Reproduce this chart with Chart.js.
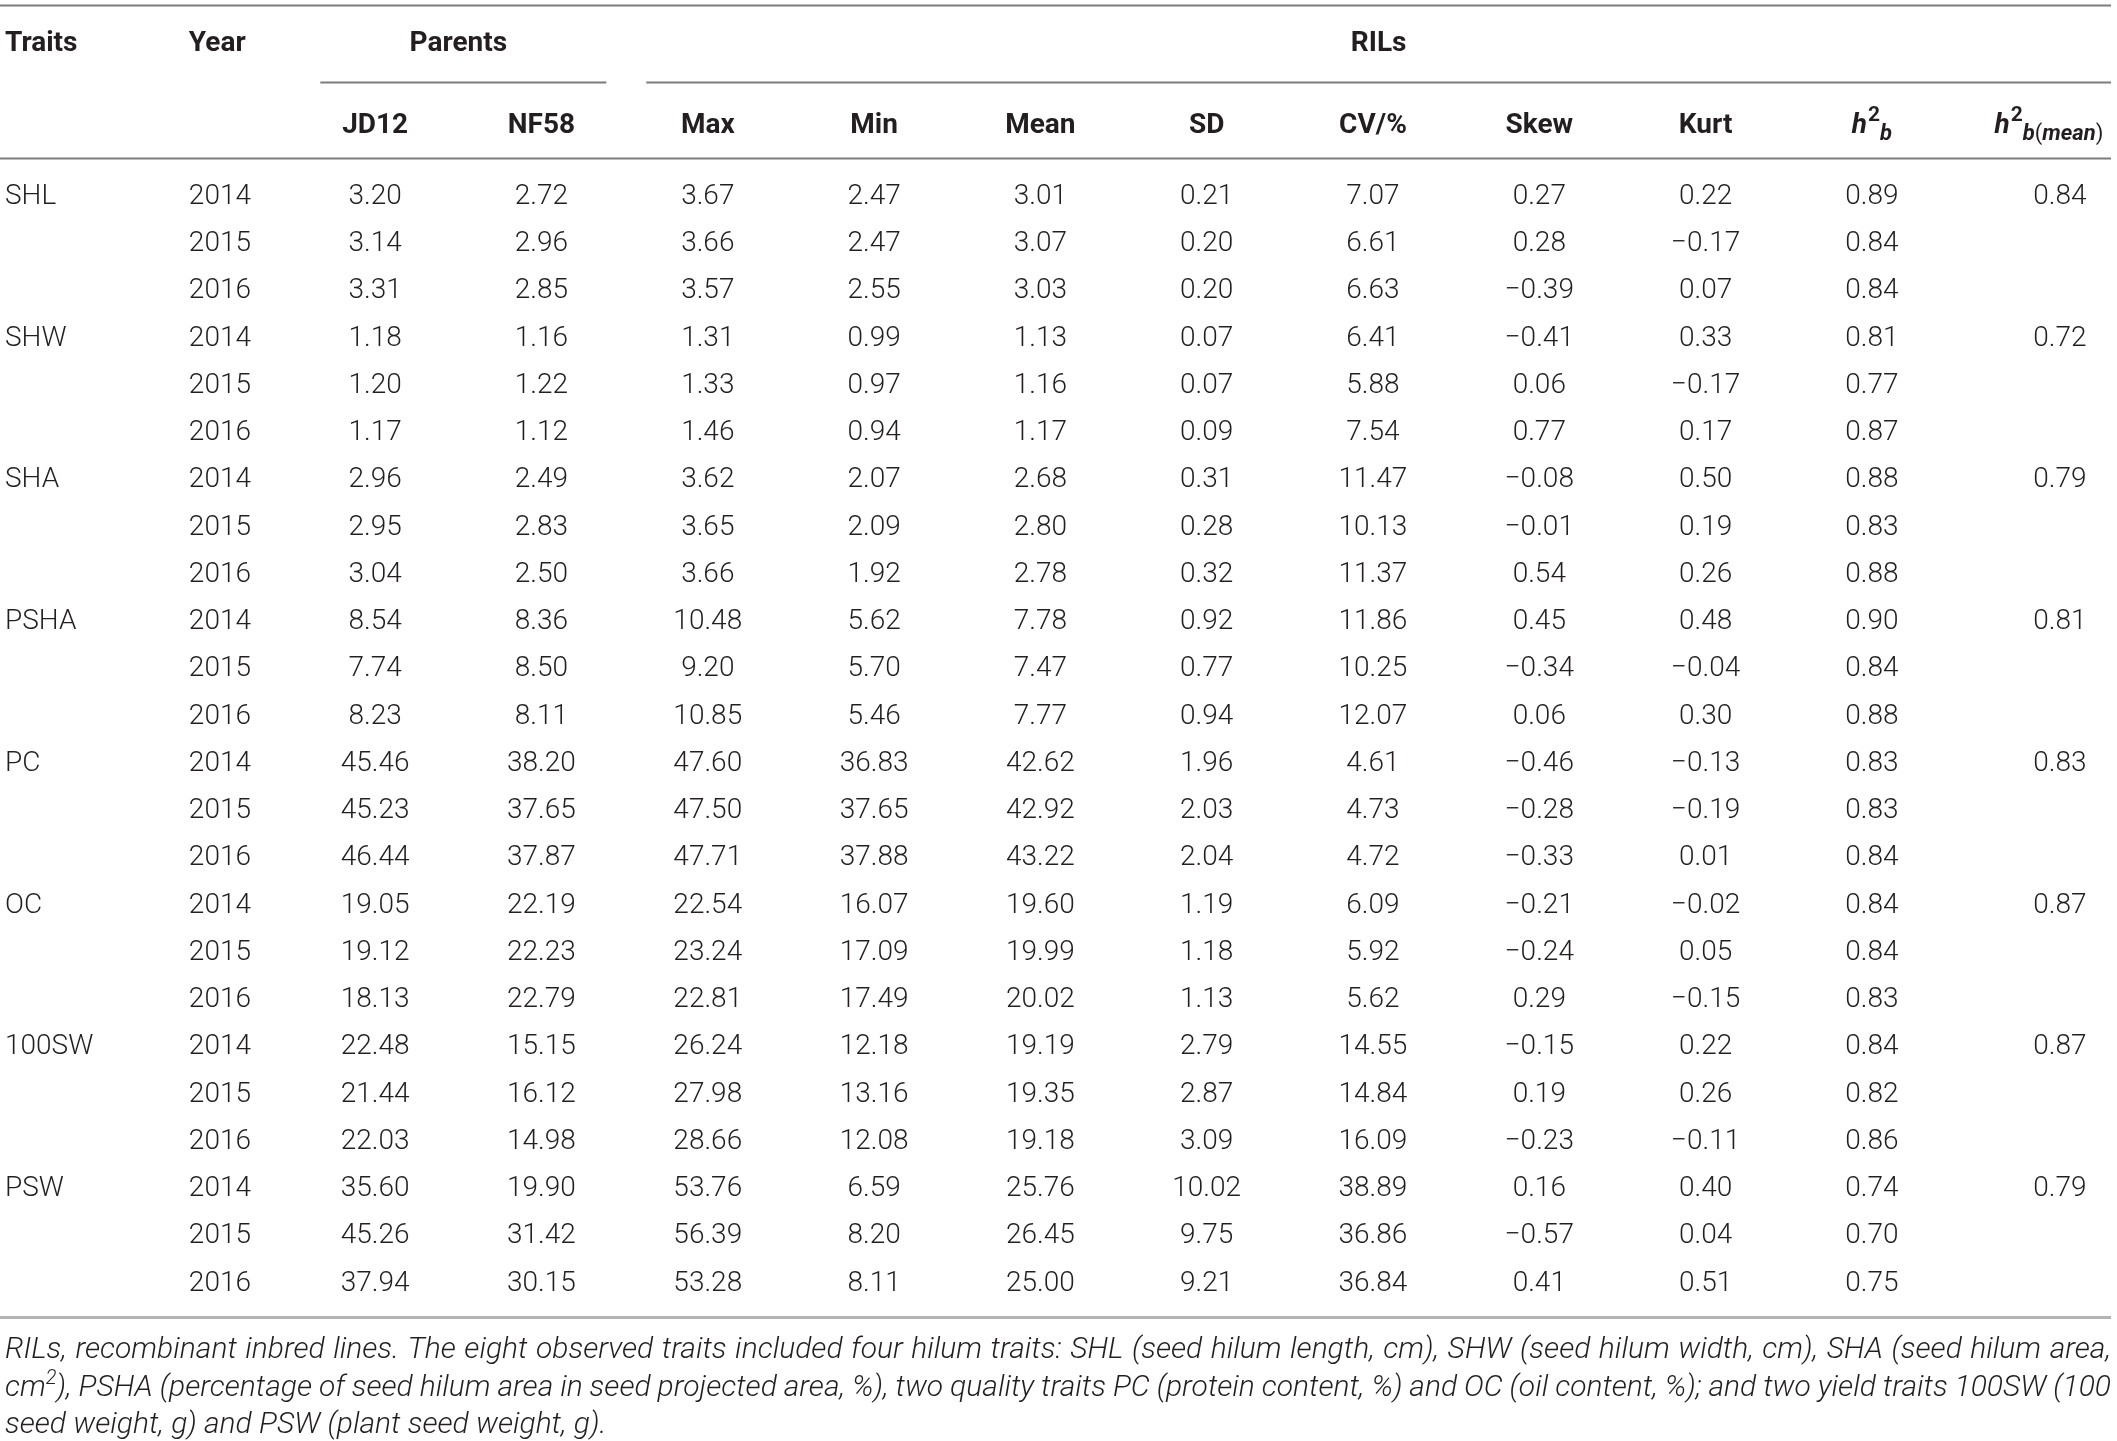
<!DOCTYPE html>
<html>
<head>
<meta charset="utf-8">
<title>Traits of parents and RILs</title>
<script src="https://cdn.jsdelivr.net/npm/chart.js@4.4.1/dist/chart.umd.min.js"></script>
<style>
    html, body { margin: 0; padding: 0; background: #ffffff; }
    #wrap { width: 2117px; height: 1441px; }
</style>
</head>
<body>
<div id="wrap"><canvas id="traitTable" width="2117" height="1441"></canvas></div>
<script>
// Table data, one array per column (rows: trait x year)
const traits = ['SHL', 'SHW', 'SHA', 'PSHA', 'PC', 'OC', '100SW', 'PSW'];
const years = ['2014', '2015', '2016'];
const jd12 = [3.20, 3.14, 3.31, 1.18, 1.20, 1.17, 2.96, 2.95, 3.04, 8.54, 7.74, 8.23, 45.46, 45.23, 46.44, 19.05, 19.12, 18.13, 22.48, 21.44, 22.03, 35.60, 45.26, 37.94];
const nf58 = [2.72, 2.96, 2.85, 1.16, 1.22, 1.12, 2.49, 2.83, 2.50, 8.36, 8.50, 8.11, 38.20, 37.65, 37.87, 22.19, 22.23, 22.79, 15.15, 16.12, 14.98, 19.90, 31.42, 30.15];
const rilMax = [3.67, 3.66, 3.57, 1.31, 1.33, 1.46, 3.62, 3.65, 3.66, 10.48, 9.20, 10.85, 47.60, 47.50, 47.71, 22.54, 23.24, 22.81, 26.24, 27.98, 28.66, 53.76, 56.39, 53.28];
const rilMin = [2.47, 2.47, 2.55, 0.99, 0.97, 0.94, 2.07, 2.09, 1.92, 5.62, 5.70, 5.46, 36.83, 37.65, 37.88, 16.07, 17.09, 17.49, 12.18, 13.16, 12.08, 6.59, 8.20, 8.11];
const rilMean = [3.01, 3.07, 3.03, 1.13, 1.16, 1.17, 2.68, 2.80, 2.78, 7.78, 7.47, 7.77, 42.62, 42.92, 43.22, 19.60, 19.99, 20.02, 19.19, 19.35, 19.18, 25.76, 26.45, 25.00];
const rilSD = [0.21, 0.20, 0.20, 0.07, 0.07, 0.09, 0.31, 0.28, 0.32, 0.92, 0.77, 0.94, 1.96, 2.03, 2.04, 1.19, 1.18, 1.13, 2.79, 2.87, 3.09, 10.02, 9.75, 9.21];
const rilCV = [7.07, 6.61, 6.63, 6.41, 5.88, 7.54, 11.47, 10.13, 11.37, 11.86, 10.25, 12.07, 4.61, 4.73, 4.72, 6.09, 5.92, 5.62, 14.55, 14.84, 16.09, 38.89, 36.86, 36.84];
const rilSkew = [0.27, 0.28, -0.39, -0.41, 0.06, 0.77, -0.08, -0.01, 0.54, 0.45, -0.34, 0.06, -0.46, -0.28, -0.33, -0.21, -0.24, 0.29, -0.15, 0.19, -0.23, 0.16, -0.57, 0.41];
const rilKurt = [0.22, -0.17, 0.07, 0.33, -0.17, 0.17, 0.50, 0.19, 0.26, 0.48, -0.04, 0.30, -0.13, -0.19, 0.01, -0.02, 0.05, -0.15, 0.22, 0.26, -0.11, 0.40, 0.04, 0.51];
const h2b = [0.89, 0.84, 0.84, 0.81, 0.77, 0.87, 0.88, 0.83, 0.88, 0.90, 0.84, 0.88, 0.83, 0.83, 0.84, 0.84, 0.84, 0.83, 0.84, 0.82, 0.86, 0.74, 0.70, 0.75];
const h2bMean = [0.84, 0.72, 0.79, 0.81, 0.83, 0.87, 0.87, 0.79];

// Header labels
const groupLabels = ['Parents', 'RILs'];
const columnLabels = ['JD12', 'NF58', 'Max', 'Min', 'Mean', 'SD', 'CV/%', 'Skew', 'Kurt'];

// Footnote, as the lines are broken in the print (^ marks a superscript character)
const footnoteLines = [
    'RILs, recombinant inbred lines. The eight observed traits included four hilum traits: SHL (seed hilum length, cm), SHW (seed hilum width, cm), SHA (seed hilum area,',
    'cm^2), PSHA (percentage of seed hilum area in seed projected area, %), two quality traits PC (protein content, %) and OC (oil content, %); and two yield traits 100SW (100',
    'seed weight, g) and PSW (plant seed weight, g).'
];

// Layout (in row units of the y scale)
const ROW = { top: -4.0, head1: -3.23, group: -2.37, head2: -1.5, headRule: -0.76, bottom: 23.77, foot: [24.41, 25.21, 25.99] };
const LAST_COL_SHIFT = 0.13; // the h2b(mean) column sits a bit further right
const FONT = 'Roboto, "Liberation Sans", sans-serif';
const INK = '#231f20';

function fmt(v) {
    const s = Math.abs(v).toFixed(2);
    return v < 0 ? '\u2212' + s : s;
}

// One dataset per table column; each point is a cell
function makeDatasets() {
    const sets = [];
    sets.push({ label: 'Traits', align: 'trait',
        data: traits.map((t, i) => ({ x: 0, y: i * 3 })), cells: traits });
    const yearCells = traits.flatMap(() => years);
    sets.push({ label: 'Year', align: 'year',
        data: yearCells.map((y, k) => ({ x: 1, y: k })), cells: yearCells });
    [jd12, nf58, rilMax, rilMin, rilMean, rilSD, rilCV, rilSkew, rilKurt, h2b].forEach((col, c) => {
        sets.push({ label: 'col' + c, align: 'center',
            data: col.map((v, k) => ({ x: c + 2, y: k })), cells: col.map(fmt) });
    });
    sets.push({ label: 'h2bMean', align: 'center',
        data: h2bMean.map((v, i) => ({ x: 12 + LAST_COL_SHIFT, y: i * 3 })), cells: h2bMean.map(fmt) });
    sets.forEach(s => { s.pointRadius = 0; s.showLine = false; });
    return sets;
}

// Draw runs of text with different fonts / offsets, centred on cx
function drawRuns(ctx, runs, cx, baseY) {
    let total = 0;
    runs.forEach(r => { ctx.font = r.font; total += ctx.measureText(r.t).width + (r.gap || 0); });
    let x = cx - total / 2;
    ctx.textAlign = 'left';
    runs.forEach(r => {
        ctx.font = r.font;
        ctx.fillText(r.t, x, baseY + (r.dy || 0));
        x += ctx.measureText(r.t).width + (r.gap || 0);
    });
}

// Split a word into plain / superscript pieces
function wordRuns(word, font, supFont) {
    const runs = [];
    let buf = '';
    for (let i = 0; i < word.length; i++) {
        if (word[i] === '^') {
            if (buf) runs.push({ t: buf, font: font });
            buf = '';
            runs.push({ t: word[i + 1], font: supFont, dy: -12 });
            i++;
        } else buf += word[i];
    }
    if (buf) runs.push({ t: buf, font: font });
    return runs;
}

function runsWidth(ctx, runs) {
    return runs.reduce((w, r) => { ctx.font = r.font; return w + ctx.measureText(r.t).width; }, 0);
}

const tablePlugin = {
    id: 'tableText',
    beforeDatasetsDraw(chart) {
        const ctx = chart.ctx, xs = chart.scales.x, ys = chart.scales.y, area = chart.chartArea;
        ctx.save();
        function rule(x0, x1, row, color, w) {
            const y = Math.round(ys.getPixelForValue(row)) + 0.5;
            ctx.strokeStyle = color;
            ctx.lineWidth = w;
            ctx.beginPath();
            ctx.moveTo(x0, y);
            ctx.lineTo(x1, y);
            ctx.stroke();
        }
        rule(area.left, area.right - 6, ROW.top, '#7d7d7d', 2);
        rule(xs.getPixelForValue(1.67), xs.getPixelForValue(3.39), ROW.group, '#7d7d7d', 2);
        rule(xs.getPixelForValue(3.63), area.right - 6, ROW.group, '#7d7d7d', 2);
        rule(area.left, area.right - 6, ROW.headRule, '#7d7d7d', 2);
        rule(area.left, area.right - 6, ROW.bottom, '#b4b4b4', 3);
        ctx.restore();
    },
    afterDatasetsDraw(chart) {
        const ctx = chart.ctx, xs = chart.scales.x, ys = chart.scales.y, area = chart.chartArea;
        const size = 28;
        const cap = size * 0.355;
        const body = '300 ' + size + 'px ' + FONT;
        const bold = 'bold ' + size + 'px ' + FONT;
        ctx.save();
        ctx.fillStyle = INK;
        ctx.textBaseline = 'alphabetic';

        // body cells
        chart.data.datasets.forEach((ds, d) => {
            const meta = chart.getDatasetMeta(d);
            ctx.font = body;
            meta.data.forEach((el, j) => {
                const base = el.y + cap;
                if (ds.align === 'trait') {
                    ctx.textAlign = 'left';
                    ctx.fillText(ds.cells[j], area.left + 5, base);
                } else if (ds.align === 'year') {
                    ctx.textAlign = 'left';
                    ctx.fillText(ds.cells[j], el.x - 20, base);
                } else {
                    ctx.textAlign = 'center';
                    ctx.fillText(ds.cells[j], el.x, base);
                }
            });
        });

        // header row 1
        const h1 = ys.getPixelForValue(ROW.head1) + cap;
        ctx.font = bold;
        ctx.textAlign = 'left';
        ctx.fillText('Traits', area.left + 5, h1);
        ctx.fillText('Year', xs.getPixelForValue(1) - 20, h1);
        ctx.textAlign = 'center';
        ctx.fillText(groupLabels[0], xs.getPixelForValue(2.5), h1);
        ctx.fillText(groupLabels[1], (xs.getPixelForValue(3.63) + area.right - 6) / 2, h1);

        // header row 2
        const h2 = ys.getPixelForValue(ROW.head2) + cap;
        columnLabels.forEach((lab, i) => {
            ctx.font = bold;
            ctx.textAlign = 'center';
            ctx.fillText(lab, xs.getPixelForValue(i + 2), h2);
        });
        const it = 'italic bold ' + size + 'px ' + FONT;
        const subIt = 'italic bold 22px ' + FONT;
        const supUp = 'bold 21px ' + FONT;
        const subUp = '22px ' + FONT;
        drawRuns(ctx, [
            { t: 'h', font: it, gap: 1 },
            { t: '2', font: supUp, dy: -12 },
            { t: 'b', font: subIt, dy: 7 }
        ], xs.getPixelForValue(11), h2);
        drawRuns(ctx, [
            { t: 'h', font: it, gap: 1 },
            { t: '2', font: supUp, dy: -12 },
            { t: 'b', font: subIt, dy: 7 },
            { t: '(', font: subUp, dy: 7 },
            { t: 'mean', font: subIt, dy: 7 },
            { t: ')', font: subUp, dy: 7 }
        ], xs.getPixelForValue(12 + LAST_COL_SHIFT / 2), h2);

        // footnote, justified like the print except for the last line
        const fSize = 30;
        const fFont = 'italic 300 ' + fSize + 'px ' + FONT;
        const fSup = 'italic 300 20px ' + FONT;
        const left = area.left + 5, right = area.right - 6;
        footnoteLines.forEach((line, li) => {
            const base = ys.getPixelForValue(ROW.foot[li]) + fSize * 0.355;
            const words = line.split(' ').map(w => wordRuns(w, fFont, fSup));
            const widths = words.map(w => runsWidth(ctx, w));
            const sum = widths.reduce((a, b) => a + b, 0);
            ctx.font = fFont;
            let gap = ctx.measureText(' ').width;
            if (li < footnoteLines.length - 1) gap = (right - left - sum) / (words.length - 1);
            let x = left;
            ctx.textAlign = 'left';
            words.forEach(runs => {
                runs.forEach(r => {
                    ctx.font = r.font;
                    ctx.fillText(r.t, x, base + (r.dy || 0));
                    x += ctx.measureText(r.t).width;
                });
                x += gap;
            });
        });
        ctx.restore();
    }
};

function buildTable() {
    const ctx = document.getElementById('traitTable').getContext('2d');
    new Chart(ctx, {
        type: 'scatter',
        data: { datasets: makeDatasets() },
        options: {
            responsive: false,
            devicePixelRatio: 1,
            animation: false,
            layout: { padding: 0 },
            plugins: { legend: { display: false }, tooltip: { enabled: false } },
            scales: {
                x: { type: 'linear', min: -0.256, max: 12.474, display: false },
                y: { type: 'linear', min: -4.106, max: 26.391, reverse: true, display: false }
            }
        },
        plugins: [tablePlugin]
    });
}

window.onload = buildTable;
</script>
</body>
</html>
